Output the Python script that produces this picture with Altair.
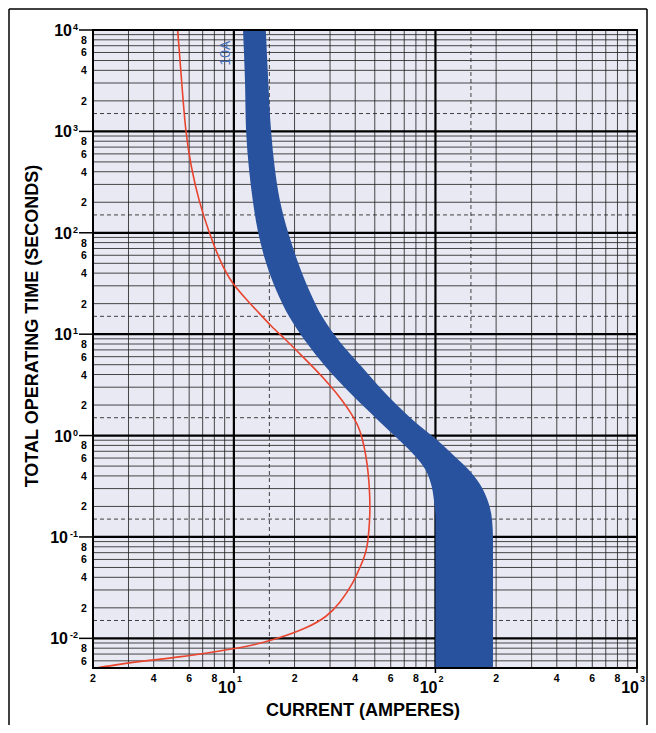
import altair as alt
import pandas as pd

# ---------------- data ----------------
# blue band (10A fuse): total operating time (s) with left & right edge current (A)
band_time = [10000, 3210, 1000, 416, 211, 100, 53.9, 27.3, 14.4, 8.37, 4.75, 2.51, 1.42,
             0.904, 0.629, 0.468, 0.333, 0.226, 0.147, 0.0933, 0.005]
band_left = [11.1, 11.35, 11.5, 11.9, 12.4, 13.2, 14.3, 16.2, 19.0, 22.8, 28.6, 38.6, 51.9,
             66.0, 79.2, 88.8, 95.1, 98.4, 100, 100, 100]
band_right = [14.4, 14.8, 15.3, 16.0, 16.9, 18.6, 20.6, 23.6, 27.7, 33.6, 43.2, 57.5, 77.4,
              102, 124, 145, 166, 182, 191, 193, 193]

# red curve, in drawing order (top to bottom)
red_amps = [5.26, 5.50, 5.75, 6.13, 6.68, 7.53, 8.55, 9.75, 11.3, 13.2, 15.3, 17.94, 20.8,
            24.98, 29.98, 34.39, 38.11, 41.28, 43.21, 45.24, 46.56, 47.25, 47.36, 46.82, 46.03,
            44.46, 42.24, 39.12, 33.62, 28.88, 23.06, 16.94, 11.62, 7.88, 5.40, 3.97, 2.72, 2.0]
red_time = [10000, 3213, 1000, 446, 211, 100, 52.0, 32.0, 23.0, 16.5, 12.0, 8.96, 6.67,
            4.64, 3.15, 2.24, 1.67, 1.27, 0.968, 0.643, 0.408, 0.259, 0.172, 0.117, 0.0833,
            0.0634, 0.0505, 0.0351, 0.0223, 0.01624, 0.01265, 0.01008, 0.00822, 0.00733,
            0.00655, 0.00612, 0.00558, 0.00504]

# axis labels
y_decades = [1e4, 1e3, 1e2, 1e1, 1e0, 1e-1, 1e-2]
y_exps = ["4", "3", "2", "1", "0", "-1", "-2"]
y_minor_vals = [8000, 6000, 4000, 2000, 800, 600, 400, 200, 80, 60, 40, 20, 8, 6, 4, 2,
                0.8, 0.6, 0.4, 0.2, 0.08, 0.06, 0.04, 0.02, 0.008, 0.006]
y_minor_text = ["8", "6", "4", "2"] * 6 + ["8", "6"]
x_decades = [10, 100, 1000]
x_exps = ["1", "2", "3"]
x_minor_vals = [2, 4, 6, 8, 20, 40, 60, 80, 200, 400, 600, 800]
x_minor_text = ["2", "4", "6", "8"] * 3

# grid of the log paper
mantissas = [2, 3, 4, 5, 6, 7, 8, 9]
x_grid_minor = [m * d for d in [1, 10, 100] for m in mantissas if 2 < m * d < 1000]
y_grid_minor = [m * d for d in [0.001, 0.01, 0.1, 1, 10, 100, 1000] for m in mantissas
                if 0.0051 < m * d < 10000]
x_grid_dash = [15, 150]
y_grid_dash = [0.015, 0.15, 1.5, 15, 150, 1500]
x_grid_major = [10, 100]
y_grid_major = [0.01, 0.1, 1, 10, 100, 1000]

# ---------------- chart ----------------
W, H = 544, 638
FONT = "Liberation Sans"
xs = alt.Scale(type="log", domain=[2, 1000], nice=False)
ys = alt.Scale(type="log", domain=[0.0051, 10000], nice=False)
one = pd.DataFrame({"k": [0]})


def X(f):
    return alt.X(f, type="quantitative", scale=xs, axis=None)


def Y(f):
    return alt.Y(f, type="quantitative", scale=ys, axis=None)


def vrules(vals, **kw):
    return alt.Chart(pd.DataFrame({"v": vals})).mark_rule(**kw).encode(
        x=X("v"), y=alt.value(0), y2=alt.value(H))


def hrules(vals, **kw):
    return alt.Chart(pd.DataFrame({"v": vals})).mark_rule(**kw).encode(
        y=Y("v"), x=alt.value(0), x2=alt.value(W))


grid = [
    vrules(x_grid_minor, color="#1c1c1c", strokeWidth=1, opacity=0.8),
    hrules(y_grid_minor, color="#1c1c1c", strokeWidth=1, opacity=0.8),
    vrules(x_grid_dash, color="#222222", strokeWidth=1, strokeDash=[4, 3], opacity=0.85),
    hrules(y_grid_dash, color="#222222", strokeWidth=1, strokeDash=[4, 3], opacity=0.85),
    vrules(x_grid_major, color="black", strokeWidth=2.2),
    hrules(y_grid_major, color="black", strokeWidth=2.2),
]

band_df = pd.DataFrame({"t": band_time, "lo": band_left, "hi": band_right})
band = alt.Chart(band_df).mark_area(
    orient="horizontal", color="#28529d", interpolate="monotone", clip=True, opacity=1
).encode(y=Y("t"), x=X("lo"), x2="hi")

red_df = pd.DataFrame({"a": red_amps, "t": red_time, "i": list(range(len(red_amps)))})
red = alt.Chart(red_df).mark_line(
    color="#e8442e", strokeWidth=1.6, interpolate="basis", clip=True
).encode(x=X("a"), y=Y("t"), order="i:O")

frame = alt.Chart(one).mark_rect(fill=None, stroke="black", strokeWidth=2).encode(
    x=alt.value(0), x2=alt.value(W), y=alt.value(0), y2=alt.value(H))

# y-axis labels
yd = pd.DataFrame({"v": y_decades, "e": y_exps})
y_ticks = alt.Chart(yd).mark_rule(color="black", strokeWidth=1.5).encode(
    y=Y("v"), x=alt.value(-14), x2=alt.value(0))
y_ten_pos = alt.Chart(yd).transform_filter("length(datum.e) == 1").mark_text(
    text="10", font=FONT, fontWeight="bold", fontSize=16, align="right", baseline="middle", dy=1
).encode(y=Y("v"), x=alt.value(-21))
y_ten_neg = alt.Chart(yd).transform_filter("length(datum.e) > 1").mark_text(
    text="10", font=FONT, fontWeight="bold", fontSize=16, align="right", baseline="middle", dy=1
).encode(y=Y("v"), x=alt.value(-25))
y_exp = alt.Chart(yd).mark_text(
    font=FONT, fontWeight="bold", fontSize=9, align="right", baseline="middle", dy=-3
).encode(y=Y("v"), x=alt.value(-15), text="e:N")
ym = pd.DataFrame({"v": y_minor_vals, "s": y_minor_text})
y_minor = alt.Chart(ym).mark_text(
    font=FONT, fontWeight="bold", fontSize=10.5, align="center", baseline="middle", dy=1
).encode(y=Y("v"), x=alt.value(-9), text="s:N")

# x-axis labels
xd = pd.DataFrame({"v": x_decades, "e": x_exps})
x_ticks = alt.Chart(xd).mark_rule(color="black", strokeWidth=1.5).encode(
    x=X("v"), y=alt.value(H), y2=alt.value(H + 5))
x_ten = alt.Chart(xd).mark_text(
    text="10", font=FONT, fontWeight="bold", fontSize=16, align="right", baseline="middle", dx=2
).encode(x=X("v"), y=alt.value(H + 20))
x_exp = alt.Chart(xd).mark_text(
    font=FONT, fontWeight="bold", fontSize=9, align="left", baseline="middle", dx=3
).encode(x=X("v"), y=alt.value(H + 11), text="e:N")
xm = pd.DataFrame({"v": x_minor_vals, "s": x_minor_text})
x_minor = alt.Chart(xm).mark_text(
    font=FONT, fontWeight="bold", fontSize=10.5, align="center", baseline="middle"
).encode(x=X("v"), y=alt.value(H + 11), text="s:N")

# titles and annotations
y_title = alt.Chart(one).mark_text(
    text="TOTAL OPERATING TIME (SECONDS)", font=FONT, fontWeight="bold", fontSize=18,
    angle=270, align="center", baseline="middle"
).encode(x=alt.value(-60), y=alt.value(296))
x_title = alt.Chart(one).mark_text(
    text="CURRENT (AMPERES)", font=FONT, fontWeight="bold", fontSize=18,
    align="center", baseline="middle"
).encode(x=alt.value(270), y=alt.value(681))
tag = alt.Chart(one).mark_text(
    text="10A", font=FONT, fontSize=14, color="#4a70b8", angle=270,
    align="center", baseline="middle"
).encode(x=alt.value(133), y=alt.value(23))

# outer panel border
border = [
    alt.Chart(one).mark_rule(color="black", strokeWidth=1.5).encode(
        x=alt.value(-84), x2=alt.value(554), y=alt.value(-21)),
    alt.Chart(one).mark_rule(color="black", strokeWidth=1.5).encode(
        x=alt.value(-84), y=alt.value(-21), y2=alt.value(695)),
    alt.Chart(one).mark_rule(color="black", strokeWidth=1.5).encode(
        x=alt.value(554), y=alt.value(-21), y2=alt.value(695)),
]

chart = alt.layer(
    *grid, band, red, frame,
    y_ticks, y_ten_pos, y_ten_neg, y_exp, y_minor,
    x_ticks, x_ten, x_exp, x_minor,
    y_title, x_title, tag, *border
).properties(
    width=W, height=H,
    autosize=alt.AutoSizeParams(type="none"),
    padding={"left": 85, "top": 22, "right": 11, "bottom": 57},
    background="white",
).configure_view(stroke=None, fill="#e9e9f3")

chart.save("out.html", embed_options={"renderer": "svg", "actions": False})
